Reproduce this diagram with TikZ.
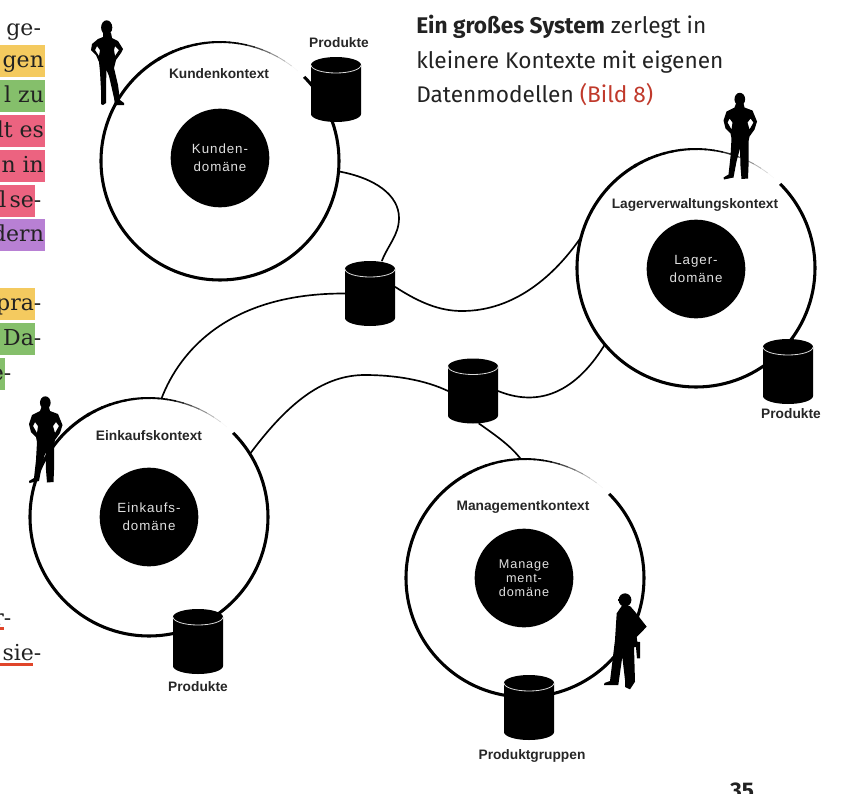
\documentclass[tikz,border=0pt]{standalone}
\usepackage{fontspec}
\usetikzlibrary{backgrounds}
\setmainfont{Liberation Sans}
\newfontfamily\serifpage{DejaVu Serif}
\newfontfamily\headpage{Fira Sans}
\newfontfamily\domainfont[LetterSpace=7]{Liberation Sans}
\definecolor{MarkYellow}{HTML}{F4CA5F}
\definecolor{MarkGreen}{HTML}{85BF6B}
\definecolor{MarkPink}{HTML}{EC6380}
\definecolor{MarkPurple}{HTML}{B880D4}
\definecolor{BildRed}{HTML}{C0392B}
\definecolor{UnderRed}{HTML}{E0452A}
\definecolor{PageInk}{HTML}{222222}
\tikzset{
  contextring/.style={circle, minimum size=178.5pt, inner sep=0pt, outer sep=0pt},
  domainbox/.style={circle, fill=black, text=black!12, minimum size=74pt, inner sep=0pt,
    align=center, font=\domainfont\fontsize{10}{13.5}\selectfont},
  databox/.style={rectangle, minimum width=37.5pt, minimum height=48.5pt, inner sep=0pt, outer sep=0pt},
  titlelabel/.style={font=\bfseries\fontsize{10.3}{12}\selectfont, text=black!85, inner sep=0pt},
  linkline/.style={black, line width=1.25pt},
  markbox/.style={anchor=north west, inner xsep=1pt, inner ysep=0pt, minimum height=23.5pt,
    text height=13pt, text depth=2.5pt, font=\serifpage\fontsize{16.5}{18}\selectfont, text=PageInk},
}
\newcommand{\marktext}[2]{\makebox[#1pt][r]{#2}}
\newcommand{\datastore}[2]{%
  \node[databox] (#1) at #2 {};
  \begin{scope}[shift={(#1.center)}]
    \fill (-25,-24.5) arc[start angle=180, end angle=0, x radius=18.75pt, y radius=6pt]
      -- (25,24.5) arc[start angle=0, end angle=-180, x radius=18.75pt, y radius=6pt] -- cycle;
    \draw[black!15, line width=0.6pt] (-25,-24.5) arc[start angle=180, end angle=360, x radius=18.75pt, y radius=6pt];
  \end{scope}}
\newcommand{\standingman}[1]{%
  \begin{scope}[shift={#1}]
    \fill (45.3,402.7) ellipse[x radius=4pt, y radius=4.8pt];
    \fill[even odd rule] (41.5,407) -- (49,407) -- (50,411) -- (58,414) -- (62.5,425) -- (60,433)
      -- (55,440) -- (54,445) -- (54,470) -- (53.5,482) -- (47,482.5) -- (46,470) -- (45.5,452)
      -- (42,465) -- (39,481) -- (29.5,483) -- (29,481) -- (34,478) -- (36,460) -- (37,442)
      -- (36,437) -- (31,432) -- (29,424) -- (32,415) -- (40,411) -- cycle
      (35,422) -- (33,426) -- (37,433) -- (38,426) -- cycle
      (56,422) -- (59,426) -- (55,433) -- (53,426) -- cycle;
  \end{scope}}
\begin{document}
\begin{tikzpicture}[x=0.75pt, y=-0.75pt]
\useasboundingbox (0,0) rectangle (843,793);

% Page text at the left edge
\node[markbox, minimum height=0pt] (markge) at (0,18) {\marktext{29.5}{ge-}};
\node[markbox, fill=MarkYellow] (markgen) at (0,45) {\marktext{31.75}{gen}};
\node[markbox, fill=MarkGreen] (markzu) at (0,80) {\marktext{31.75}{l zu}};
\node[markbox, fill=MarkPink] (markes) at (0,115) {\marktext{31.75}{lt es}};
\node[markbox, fill=MarkPink] (markin) at (0,150) {\marktext{31.75}{n in}};
\node[markbox, fill=MarkPink] (markse) at (0,185) {\marktext{24.25}{l\hspace{.15em}se\rlap{-}}};
\node[markbox, fill=MarkPurple] (markdern) at (0,219) {\marktext{31.75}{dern}};
\node[markbox, fill=MarkYellow] (markpra) at (0,288) {\marktext{24.25}{pra\rlap{-}}};
\node[markbox, fill=MarkGreen] (markda) at (0,323) {\marktext{24.25}{Da\rlap{-}}};
\node[markbox, fill=MarkGreen] (marke) at (0,358) {\marktext{1.75}{e\rlap{-}}};
\node[markbox, minimum height=0pt] (markr) at (0,608) {\marktext{1.75}{r\rlap{-}}};
\node[markbox, minimum height=0pt] (marksie) at (0,643) {\marktext{24.25}{sie\rlap{-}}};
\fill[UnderRed] (0,627) rectangle (4,629.5);
\fill[UnderRed] (0,663) rectangle (33,665.5);

% Caption and page number
\node[anchor=north west, inner sep=0pt, align=left, text=PageInk,
  font=\headpage\fontsize{17}{26}\selectfont] (caption) at (416,15)
  {\textbf{Ein großes System} zerlegt in\\kleinere Kontexte mit eigenen\\Datenmodellen \textcolor{BildRed}{(Bild 8)}};
\node[anchor=base, inner sep=0pt, text=PageInk, font=\headpage\bfseries\fontsize{17}{20}\selectfont]
  (pagenumber) at (742,798) {35};

% Contexts
\node[contextring] (kunden) at (220,161) {};
\node[contextring] (lager) at (696,268) {};
\node[contextring] (einkauf) at (149,517) {};
\node[contextring] (management) at (525,578) {};

\node[domainbox] (kundendom) at (220,158) {Kunden-\\domäne};
\node[domainbox] (lagerdom) at (696,269) {Lager-\\domäne};
\node[domainbox] (einkaufdom) at (149,517) {Einkaufs-\\domäne};
\node[domainbox, font=\domainfont\fontsize{9.5}{10.5}\selectfont] (managementdom) at (524,578)
  {Manage\\ment-\\domäne};

\node[titlelabel] (kundentitle) at (219,74) {Kundenkontext};
\node[titlelabel] (lagertitle) at (695,205) {Lagerverwaltungskontext};
\node[titlelabel] (einkauftitle) at (149,436) {Einkaufskontext};
\node[titlelabel] (managementtitle) at (523,507) {Managementkontext};

% Data stores
\datastore{kundenstore}{(336,89.5)}
\datastore{linkstore}{(370,293.5)}
\datastore{middlestore}{(473,391)}
\datastore{lagerstore}{(788,371.5)}
\datastore{einkaufstore}{(198,641.5)}
\datastore{managementstore}{(529,707.5)}

\node[titlelabel] (kundenlabel) at (339,43) {Produkte};
\node[titlelabel] (lagerlabel) at (791,414) {Produkte};
\node[titlelabel] (einkauflabel) at (198,687) {Produkte};
\node[titlelabel] (managementlabel) at (532,756) {Produktgruppen};

\begin{scope}[on background layer]
  % Rings: solid part, then the part that fades out
  \foreach \ring in {kunden,lager,einkauf,management} {
    \draw[black, line width=2.3pt] (\ring.45) arc[start angle=45, end angle=-240, radius=89.25pt];
    \foreach \a in {49,53,...,117} {
      \pgfmathsetmacro{\fade}{min(100,(\a-48)*100/30)}
      \pgfmathsetmacro{\wid}{0.4+(\a-48)/72*1.9}
      \draw[black!\fade, line width=\wid pt] (\ring.\a) arc[start angle=\a, end angle=\a+4.5, radius=89.25pt];
    }
  }
  % Links
  \draw[linkline] (kunden.-5) .. controls (375,178) and (399,195) .. (399,218)
    .. controls (399,235) and (388,245) .. (linkstore.70);
  \draw[linkline] (linkstore.15) .. controls (420,303) and (440,311) .. (462,311)
    .. controls (515,311) and (555,275) .. (lager.165);
  \draw[linkline] (einkauf.84) .. controls (180,350) and (230,293) .. (linkstore.west);
  \draw[linkline] (einkauf.32) .. controls (290,400) and (325,375) .. (365,375)
    .. controls (395,375) and (425,380) .. (middlestore.west);
  \draw[linkline] (middlestore.east) .. controls (545,410) and (580,385) .. (lager.-140);
  \draw[linkline] (middlestore.-80) .. controls (495,435) and (510,445) .. (management.92);
\end{scope}

% People
\fill (106.7,27.5) ellipse[x radius=4.2pt, y radius=5.4pt];
\fill[even odd rule] (103,33) -- (111,33) -- (112,38) -- (118,41) -- (123,49) -- (121,53) -- (116,60)
  -- (114,68) -- (118,85) -- (120,100) -- (124,103) -- (124,105) -- (115,105) -- (114,98) -- (109,76)
  -- (106.5,70) -- (106,85) -- (106,103) -- (103,105) -- (101,104) -- (101,90) -- (100,72) -- (99,62)
  -- (96,55) -- (91,50) -- (92,44) -- (98,39) -- (103,37) -- cycle
  (97,46) -- (95,50) -- (99,56) -- (100,50) -- cycle
  (115,46) -- (119,50) -- (115,56) -- (114,50) -- cycle;
\standingman{(0,0)}
\standingman{(694.5,-303.5)}
\fill (625,600) ellipse[x radius=4.8pt, y radius=5pt];
\fill (617.5,598.5) rectangle (625,601);
\fill (621.7,606) -- (630,606) -- (635,611.7) -- (646.7,626.7) -- (636.7,637) -- (637.3,641.7)
  -- (640,642) -- (640,658.3) -- (637,658.3) -- (636,647) -- (634,647) -- (635,681.7) -- (630,689.3)
  -- (625,687) -- (625,680) -- (622.3,656.7) -- (618.3,685) -- (604,685) -- (604.5,683) -- (610,681)
  -- (615,640) -- (616.7,613.3) -- cycle;
\end{tikzpicture}
\end{document}
